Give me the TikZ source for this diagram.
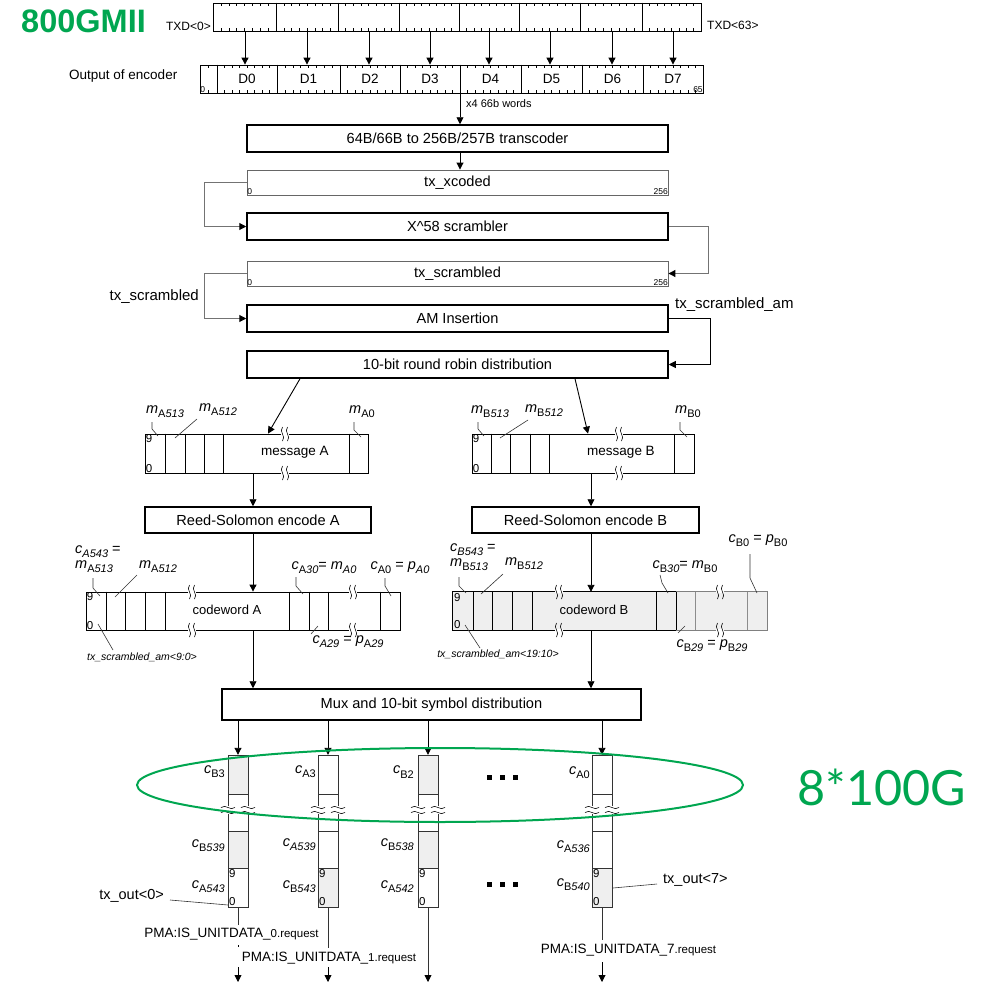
\documentclass[tikz,border=0pt]{standalone}
\usepackage{fontspec}
\setmainfont{Liberation Sans}
\newfontfamily\latofont{Lato}
\usetikzlibrary{arrows.meta,calc}
\definecolor{grn}{HTML}{00A650}
\definecolor{shd}{HTML}{EFEFEF}
\newcommand{\fsz}[1]{\fontsize{#1}{#1}\selectfont}
\newcommand{\subx}[1]{\raisebox{-0.55ex}{\fsz{11}#1}}
\newcommand{\vbrk}[2]{%
 \fill[white] (#1-4,#2-1.2) rectangle (#1+4,#2+1.2);
 \draw[line width=0.6pt] (#1-2.5,#2-7) .. controls (#1-6.5,#2-2) and (#1+1.5,#2+2) .. (#1-2.5,#2+7);
 \draw[line width=0.6pt] (#1+2.5,#2-7) .. controls (#1-1.5,#2-2) and (#1+6.5,#2+2) .. (#1+2.5,#2+7);}
\newcommand{\hbrk}[2]{%
 \fill[white] (#1-1.2,#2-4) rectangle (#1+1.2,#2+4);
 \draw[line width=0.6pt] (#1-7,#2-2.5) .. controls (#1-2,#2-6.5) and (#1+2,#2+1.5) .. (#1+7,#2-2.5);
 \draw[line width=0.6pt] (#1-7,#2+2.5) .. controls (#1-2,#2-1.5) and (#1+2,#2+6.5) .. (#1+7,#2+2.5);}
\tikzset{
 mainbox/.style={draw, line width=1.5pt, minimum width=421pt, minimum height=27pt, inner sep=0pt, font=\fsz{14.6}},
 regbox/.style={draw=black!60, line width=0.9pt, minimum width=421pt, minimum height=25pt, inner sep=0pt, font=\fsz{14.6}},
 cellreg/.style={draw, line width=0.8pt, inner sep=0pt},
 arr/.style={-{Triangle[length=7pt,width=7pt,color=black]}, line width=0.9pt},
 loopc/.style={arr, draw=black!55, line width=1.1pt},
 lab/.style={font=\fsz{14.5}, inner sep=0pt},
 leader/.style={line width=0.6pt, draw=black!80},
 tiny/.style={font=\fsz{8.5}, inner sep=0.5pt},
 bitlab/.style={font=\fsz{11.5}, inner sep=1pt},
 lanel/.style={line width=0.8pt, draw=black!80},
 tick/.style={line width=0.5pt}
}
\newcommand{\lanecol}[5]{%
 \node[minimum width=20pt, minimum height=152pt, inner sep=0pt] (#1) at (#2,831) {};
 \fill[#3] (#2-10,755) rectangle (#2+10,794);
 \fill[#4] (#2-10,831) rectangle (#2+10,868);
 \fill[#5] (#2-10,868) rectangle (#2+10,907);
 \draw[lanel] (#2-10,755) rectangle (#2+10,794);
 \draw[lanel] (#2-10,831) rectangle (#2+10,907);
 \draw[lanel] (#2-10,868) -- (#2+10,868);
 \draw[lanel] (#2-10,794) -- (#2-10,831) (#2+10,794) -- (#2+10,831);
 \hbrk{#2-10}{810}\hbrk{#2+10}{810}
 \node[bitlab, anchor=north west] at (#2-10,868.5) {9};
 \node[bitlab, anchor=south west] at (#2-10,906.5) {0};
}
\begin{document}
\begin{tikzpicture}[x=1pt,y=-1pt]
\useasboundingbox (0,0) rectangle (989,985);

% title
\node[font=\fsz{32.5}\bfseries, text=grn, anchor=west, inner sep=0pt] (title) at (21,21) {800GMII};

% TXD register
\node[cellreg, minimum width=488pt, minimum height=28pt] (txd) at (457,17) {};
\foreach \x in {276,338,399,459,519,580,642} \draw[line width=0.8pt] (txd.north -| \x,0) -- (txd.south -| \x,0);
\foreach \a/\b in {213/276,276/338,338/399,399/459,459/519,519/580,580/642,642/701}
  \foreach \k in {1,...,7} {
    \draw[tick] ({\a+\k*(\b-\a)/8},3) -- ++(0,3);
    \draw[tick] ({\a+\k*(\b-\a)/8},31) -- ++(0,-3);
  }
\node[font=\fsz{12}, anchor=east, inner sep=1pt] (txd0) at (212,26) {TXD<0>};
\node[font=\fsz{12}, anchor=west, inner sep=1pt] (txd63) at (706,25) {TXD<63>};

% encoder output register
\node[cellreg, minimum width=503pt, minimum height=28pt] (enc) at (451.5,79) {};
\foreach \x in {217,277,340,400,460,521,582,643} \draw[line width=0.8pt] (enc.north -| \x,0) -- (enc.south -| \x,0);
\foreach \a/\b in {217/277,277/340,340/400,400/460,460/521,521/582,582/643,643/703}
  \foreach \k in {1,...,7} {
    \draw[tick] ({\a+\k*(\b-\a)/8},65) -- ++(0,3);
    \draw[tick] ({\a+\k*(\b-\a)/8},93) -- ++(0,-3);
  }
\draw[tick] (208.5,65) -- ++(0,3);
\draw[tick] (208.5,93) -- ++(0,-3);
\foreach \c/\t in {247/D0,308.5/D1,370/D2,430/D3,490.5/D4,551.5/D5,612.5/D6,673/D7}
  \node[font=\fsz{13.5}, inner sep=0pt] at (\c,79) {\t};
\node[tiny, anchor=south west] at (enc.south west) {0};
\node[tiny, anchor=south east] at (enc.south east) {65};
\node[font=\fsz{13.5}, anchor=west, inner sep=0pt] (enclab) at (69,76) {Output of encoder};

\foreach \x in {245,307,369,430,489,550,612,673}
  \draw[arr] (txd.south -| \x,0) -- (enc.north -| \x,0);

% transcoder chain
\node[mainbox] (trans) at (457.5,138.5) {64B/66B to 256B/257B transcoder};
\node[regbox] (xcoded) at (457.5,182.5) {\raisebox{2pt}{tx\_xcoded}};
\node[mainbox] (scr) at (457.5,226.5) {X\textasciicircum 58 scrambler};
\node[regbox] (txscr) at (457.5,273.5) {\raisebox{2pt}{tx\_scrambled}};
\node[mainbox] (am) at (457.5,318.5) {AM Insertion};
\node[mainbox] (rr) at (457.5,364.5) {10-bit round robin distribution};
\foreach \n in {xcoded,txscr} {
  \node[tiny, anchor=south west] at (\n.south west) {0};
  \node[tiny, anchor=south east] at (\n.south east) {256};
}
\draw[arr] (enc.south -| 460,0) -- (trans.north -| 460,0);
\node[font=\fsz{11}, anchor=west, inner sep=0pt] (x4) at (466,104) {x4 66b words};
\draw[arr] (trans.south -| 460,0) -- (xcoded.north -| 460,0);

\draw[loopc] (xcoded.west) -- ++(-42,0) |- (scr.west);
\draw[loopc] (scr.east) -- ++(40,0) |- (txscr.east);
\draw[loopc] (txscr.west) -- ++(-42,0) |- (am.west);
\draw[arr] (am.east) -- ++(42,0) |- (rr.east);
\node[font=\fsz{15}, anchor=east, inner sep=0pt] (tsl) at (199,297) {tx\_scrambled};
\node[font=\fsz{15}, anchor=west, inner sep=0pt] (tsaml) at (675,305) {tx\_scrambled\_am};

% messages
\node[cellreg, minimum width=223pt, minimum height=39pt] (msgA) at (256.5,453.5) {};
\node[cellreg, minimum width=222pt, minimum height=39pt] (msgB) at (583,453.5) {};
\foreach \x in {165,185,204,223,349} \draw[line width=0.8pt] (msgA.north -| \x,0) -- (msgA.south -| \x,0);
\foreach \x in {491,510,530,549,674} \draw[line width=0.8pt] (msgB.north -| \x,0) -- (msgB.south -| \x,0);
\node[font=\fsz{13.5}, inner sep=0pt] at (295,452) {message A};
\node[font=\fsz{13.5}, inner sep=0pt] at (621,452) {message B};
\node[bitlab, anchor=north west] at (msgA.north west) {9};
\node[bitlab, anchor=south west] at (msgA.south west) {0};
\node[bitlab, anchor=north west] at (msgB.north west) {9};
\node[bitlab, anchor=south west] at (msgB.south west) {0};
\vbrk{285}{434}\vbrk{285}{473}
\vbrk{619}{434}\vbrk{619}{473}

\draw[arr] (rr.south -| 300,0) -- (msgA.north -| 268,0);
\draw[arr] (rr.south -| 575,0) -- (msgB.north -| 588,0);

\node[lab] (mA513) at (165,412) {\textit{m}\subx{A\textit{513}}};
\node[lab] (mA512) at (218,410) {\textit{m}\subx{A\textit{512}}};
\node[lab] (mA0) at (362,412) {\textit{m}\subx{A0}};
\draw[leader] (152,422) -- (152,429) -- (158,436);
\draw[leader] (197,419) -- (175,438);
\draw[leader] (354,422) -- (354,430) -- (361,437);
\node[lab] (mB513) at (490,412) {\textit{m}\subx{B\textit{513}}};
\node[lab] (mB512) at (544,411) {\textit{m}\subx{B\textit{512}}};
\node[lab] (mB0) at (688,412) {\textit{m}\subx{B0}};
\draw[leader] (478,422) -- (478,429) -- (484,436);
\draw[leader] (528,420) -- (500,438);
\draw[leader] (680,422) -- (680,430) -- (687,437);

% Reed-Solomon
\node[mainbox, minimum width=226pt, minimum height=26pt] (rsA) at (258,520) {Reed-Solomon encode A};
\node[mainbox, minimum width=227pt, minimum height=26pt] (rsB) at (585.5,520) {Reed-Solomon encode B};

% codewords
\node[cellreg, minimum width=314pt, minimum height=38pt] (cwA) at (243,611) {};
\node[inner sep=0pt, fill=shd, minimum width=314pt, minimum height=38pt] (cwB) at (610,611) {};
\draw[line width=0.8pt] (cwB.north -| 676,0) -- (cwB.north west) -- (cwB.south west) -- (cwB.south -| 676,0);
\draw[line width=0.8pt, draw=black!50] (cwB.north -| 676,0) -- (cwB.north east) -- (cwB.south east) -- (cwB.south -| 676,0);
\foreach \x in {106,125,145,165,289,309,328,380} \draw[line width=0.8pt] (cwA.north -| \x,0) -- (cwA.south -| \x,0);
\foreach \x in {473,492,512,532,656,676} \draw[line width=0.8pt] (cwB.north -| \x,0) -- (cwB.south -| \x,0);
\foreach \x in {695,747} \draw[line width=0.8pt, draw=black!45] (cwB.north -| \x,0) -- (cwB.south -| \x,0);
\node[font=\fsz{13}, inner sep=0pt] at (227,610) {codeword A};
\node[font=\fsz{13}, inner sep=0pt] at (594,610) {codeword B};
\node[bitlab, anchor=north west] at (cwA.north west) {9};
\node[bitlab, anchor=south west] at (cwA.south west) {0};
\node[bitlab, anchor=north west] at (cwB.north west) {9};
\node[bitlab, anchor=south west] at (cwB.south west) {0};
\vbrk{192}{592}\vbrk{192}{630}\vbrk{353}{592}\vbrk{353}{630}
\vbrk{559}{592}\vbrk{559}{630}\vbrk{720}{592}\vbrk{720}{630}

\node[lab, font=\fontsize{14.5}{15}\selectfont, align=left, anchor=north west] (cA543) at (75,545) {\textit{c}\subx{\textit{A543}} =\\\textit{m}\subx{A\textit{513}}};
\node[lab] (mA512b) at (158,567) {\textit{m}\subx{A\textit{512}}};
\node[lab] (cA30) at (324,568) {\textit{c}\subx{A\textit{30}}= \textit{m}\subx{\textit{A0}}};
\node[lab] (cA0) at (400,568) {\textit{c}\subx{A0} = \textit{p}\subx{\textit{A0}}};
\node[lab] (cA29) at (348,642) {\textit{c}\subx{\textit{A29}} = \textit{p}\subx{A\textit{29}}};
\node[lab, font=\fsz{10.5}\itshape] (txamA) at (142,657) {tx\_scrambled\_am<9:0>};
\draw[leader] (93,578) -- (93,588) -- (100,596);
\draw[leader] (137,575) -- (115,597);
\draw[leader] (296,577) -- (296,586) -- (303,594);
\draw[leader] (385,578) -- (385,586) -- (391,596);
\draw[leader] (311,634) -- (318,626);
\draw[leader] (98,624) -- (113,650);

\node[lab, font=\fontsize{14.5}{15}\selectfont, align=left, anchor=north west] (cB543) at (450,543) {\textit{c}\subx{\textit{B543}} =\\\textit{m}\subx{B\textit{513}}};
\node[lab] (mB512b) at (524,564) {\textit{m}\subx{B\textit{512}}};
\node[lab] (cB30) at (685,567) {\textit{c}\subx{B\textit{30}}= \textit{m}\subx{B0}};
\node[lab] (cB0) at (758,541) {\textit{c}\subx{B0} = \textit{p}\subx{B0}};
\node[lab] (cB29) at (712,646) {\textit{c}\subx{B\textit{29}} = \textit{p}\subx{B\textit{29}}};
\node[lab, font=\fsz{10.5}\itshape] (txamB) at (498,654) {tx\_scrambled\_am<19:10>};
\draw[leader] (459,577) -- (459,586) -- (466,593);
\draw[leader] (503,574) -- (481,594);
\draw[leader] (660,575) -- (662,583) -- (668,593);
\draw[leader] (750,554) -- (750,578) -- (757,593);
\draw[leader] (678,633) -- (685,626);
\draw[leader] (465,625) -- (480,648);

% mux
\node[mainbox, minimum width=419pt, minimum height=31pt] (mux) at (431.5,704.5) {Mux and 10-bit symbol distribution};

\draw[arr] (msgA.south -| 253,0) -- (rsA.north -| 253,0);
\draw[arr] (rsA.south -| 253,0) -- (cwA.north -| 253,0);
\draw[arr] (cwA.south -| 253,0) -- (mux.north -| 253,0);
\draw[arr] (msgB.south -| 591,0) -- (rsB.north -| 591,0);
\draw[arr] (rsB.south -| 591,0) -- (cwB.north -| 591,0);
\draw[arr] (cwB.south -| 591,0) -- (mux.north -| 591,0);

% lanes
\lanecol{L0}{238}{shd}{shd}{white}
\lanecol{L1}{328}{white}{white}{shd}
\lanecol{L2}{428}{shd}{shd}{white}
\lanecol{L7}{602}{white}{white}{shd}
\foreach \n in {L0,L1,L2,L7} \draw[arr] (mux.south -| \n.north) -- (\n.north);

\node[lab, anchor=east] at (225,772) {\textit{c}\subx{B3}};
\node[lab, anchor=east] at (316,772) {\textit{c}\subx{A3}};
\node[lab, anchor=east] at (414,772) {\textit{c}\subx{B2}};
\node[lab, anchor=east] at (590,773) {\textit{c}\subx{A0}};
\node[lab, anchor=east] at (225,846) {\textit{c}\subx{B\textit{539}}};
\node[lab, anchor=east] at (225,887) {\textit{c}\subx{A\textit{543}}};
\node[lab, anchor=east] at (316,845) {\textit{c}\subx{\textit{A539}}};
\node[lab, anchor=east] at (316,887) {\textit{c}\subx{B\textit{543}}};
\node[lab, anchor=east] at (414,845) {\textit{c}\subx{B\textit{538}}};
\node[lab, anchor=east] at (414,887) {\textit{c}\subx{A\textit{542}}};
\node[lab, anchor=east] at (590,847) {\textit{c}\subx{A\textit{536}}};
\node[lab, anchor=east] at (590,885) {\textit{c}\subx{B\textit{540}}};
\node[lab, anchor=east] (txo0) at (164,896) {tx\_out<0>};
\node[lab, anchor=west] (txo7) at (663,880) {tx\_out<7>};
\draw[leader] (170,900) -- (228,905);
\draw[leader] (613,888) -- (657,884);

\foreach \x in {489,502,515} {
  \fill (\x-2.5,774.5) rectangle (\x+2.5,779.5);
  \fill (\x-2.5,881.5) rectangle (\x+2.5,886.5);
}

% outputs
\coordinate (o0a) at (238,925);
\coordinate (o0b) at (238,967);
\coordinate (o0c) at (238,982);
\draw[lanel] (L0.south) -- (o0a);
\draw[line width=0.6pt] (238,945) -- (238,947);
\draw[arr] (o0b) -- (o0c);
\node[lab, font=\fsz{13.5}] (pma0) at (231.5,934) {PMA:IS\_UNITDATA\_{\fsz{11.5}0.request}};

\coordinate (o1a) at (328,948);
\coordinate (o1b) at (328,967);
\coordinate (o1c) at (328,982);
\draw[lanel] (L1.south) -- (o1a);
\draw[arr] (o1b) -- (o1c);
\node[lab, font=\fsz{13.5}] (pma1) at (329,958) {PMA:IS\_UNITDATA\_{\fsz{11.5}1.request}};

\coordinate (o2c) at (428,982);
\draw[arr, draw=black!80] (L2.south) -- (o2c);

\coordinate (o7a) at (602,940);
\coordinate (o7b) at (602,962);
\coordinate (o7c) at (602,982);
\draw[lanel] (L7.south) -- (o7a);
\draw[arr] (o7b) -- (o7c);
\node[lab, font=\fsz{13.5}] (pma7) at (628.5,950) {PMA:IS\_UNITDATA\_7{\fsz{11.5}.request}};

% green overlay
\draw[grn, line width=2pt] (440,785) ellipse [x radius=303pt, y radius=37pt];
\node[font=\latofont\fsz{48.5}, text=grn, inner sep=0pt] (g8) at (882,787) {8*100G};
\end{tikzpicture}
\end{document}
